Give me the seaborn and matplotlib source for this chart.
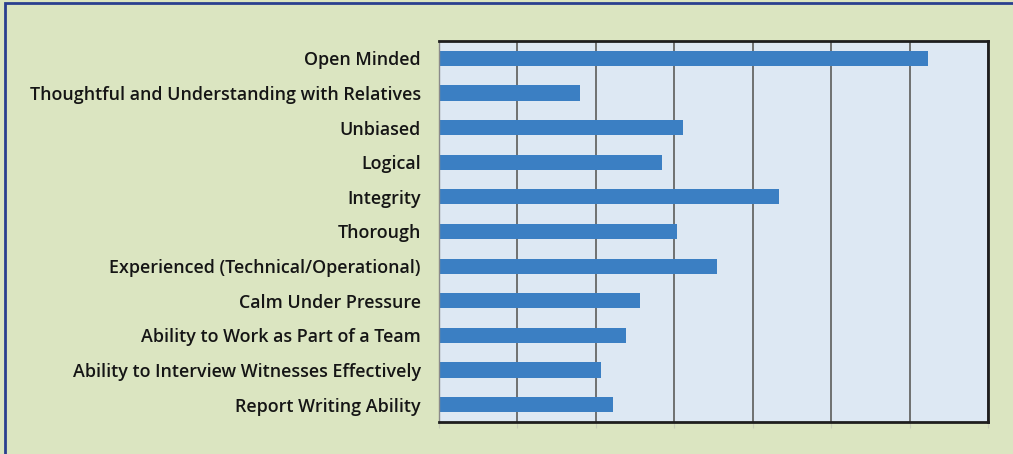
import matplotlib
matplotlib.use('Agg')
import matplotlib.pyplot as plt
import seaborn as sns
import pandas as pd
from matplotlib.ticker import FixedLocator, MultipleLocator
from matplotlib.patches import Rectangle

# Data (axis units 0-70)
qualities = ['Open Minded', 'Thoughtful and Understanding with Relatives', 'Unbiased',
             'Logical', 'Integrity', 'Thorough', 'Experienced (Technical/Operational)',
             'Calm Under Pressure', 'Ability to Work as Part of a Team',
             'Ability to Interview Witnesses Effectively', 'Report Writing Ability']
scores = [62.4, 18.0, 31.1, 28.4, 43.3, 30.3, 35.5, 25.6, 23.8, 20.6, 22.2]

df = pd.DataFrame({'quality': qualities, 'score': scores})

sns.set_style('white')
plt.rcParams['font.family'] = ['Open Sans', 'DejaVu Sans']

fig = plt.figure(figsize=(10.13, 4.54), dpi=100)
fig.patch.set_facecolor('#dbe5c1')
ax = fig.add_axes([439 / 1013, 1 - 422 / 454, (988 - 439) / 1013, (422 - 41) / 454])

sns.barplot(data=df, y='quality', x='score', orient='h', color='#3b7fc3',
            width=0.44, saturation=1, linewidth=0, ax=ax)
ax.set_facecolor('#dde8f3')

ax.set_xlim(0, 70)
ax.set_ylim(len(qualities) - 0.5, -0.5)
ax.xaxis.set_major_locator(MultipleLocator(10))
ax.set_xticklabels([])
ax.grid(axis='x', color='#6e7070', linewidth=1.4)
ax.set_axisbelow(True)

ax.set_xlabel('')
ax.set_ylabel('')
ax.tick_params(axis='y', which='major', length=0, labelsize=12.9, pad=13, labelcolor='#151515')
for lbl in ax.get_yticklabels():
    lbl.set_fontweight('semibold')
ax.yaxis.set_minor_locator(FixedLocator([i - 0.5 for i in range(len(qualities) + 1)]))
ax.tick_params(axis='y', which='minor', length=5, color='#888888', direction='out')
ax.tick_params(axis='x', which='major', length=4, color='#c8ceb8', direction='out', bottom=True)

for side in ['top', 'right', 'bottom']:
    ax.spines[side].set_color('#1e1e1e')
    ax.spines[side].set_linewidth(2)
ax.spines['left'].set_color('#8a8a8a')
ax.spines['left'].set_linewidth(1)

# outer frame seen on the left and top edges
fig.patches.append(Rectangle((5 / 1013, -0.1), 1.2, 1.1 - 3 / 454, transform=fig.transFigure,
                             fill=False, edgecolor='#2a3f8f', linewidth=2, zorder=10))

fig.savefig('out.png', dpi=100, facecolor=fig.get_facecolor())
